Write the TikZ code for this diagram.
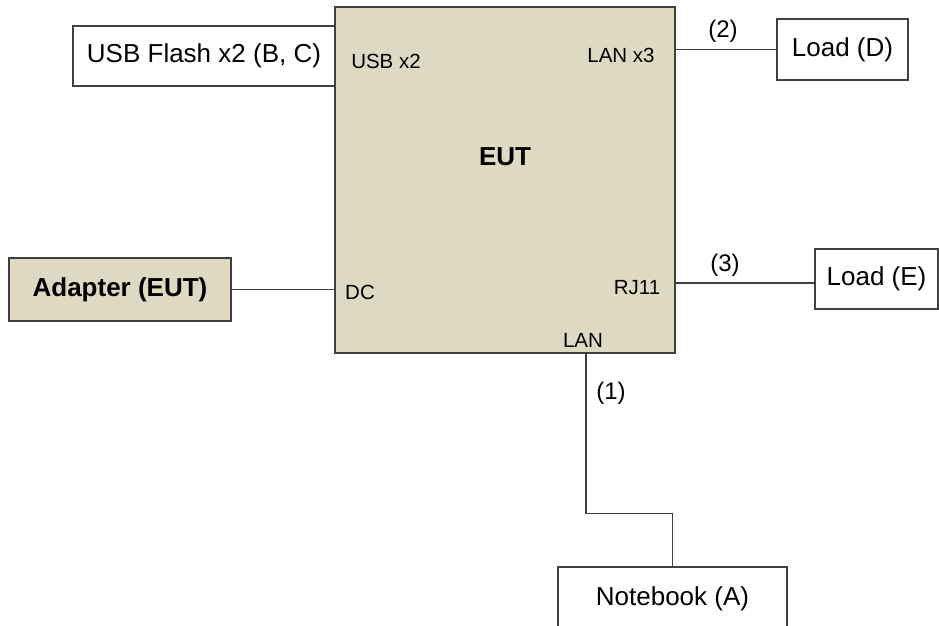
\documentclass[tikz,border=0pt]{standalone}
\usepackage{fontspec}
\setmainfont{Liberation Sans}
\definecolor{tan}{RGB}{221,217,195}
\definecolor{edge}{RGB}{64,64,64}
\begin{document}
\begin{tikzpicture}[x=1pt,y=-1pt,
  box/.style={draw=edge,line width=1.2pt,inner sep=0pt,font=\fontsize{26}{30}\selectfont},
  tanbox/.style={box,fill=tan},
  port/.style={inner sep=0pt,font=\fontsize{20.5}{24}\selectfont},
  num/.style={inner sep=0pt,font=\fontsize{24}{28}\selectfont},
  wire/.style={draw=edge,line width=1.1pt}]
\useasboundingbox (0,0) rectangle (939,626);
% boxes
\node[tanbox,minimum width=340,minimum height=346] (eut) at (505,180) {};
\node[box,fill=white,minimum width=262,minimum height=60] (usb) at (204,56) {USB Flash x2 (B, C)};
\node[box,fill=white,minimum width=131,minimum height=61] (ld) at (842.5,49.5) {Load (D)};
\node[tanbox,minimum width=222,minimum height=63,font=\fontsize{26}{30}\selectfont\bfseries] (adp) at (120,289.5) {Adapter (EUT)};
\node[box,fill=white,minimum width=123,minimum height=60] (le) at (876.5,279) {Load (E)};
\node[box,fill=white,minimum width=229,minimum height=64] (nb) at (672.5,599) {Notebook (A)};
% labels inside EUT
\node[inner sep=0pt,font=\fontsize{26}{30}\selectfont\bfseries] (eutl) at (505,157) {EUT};
\node[port] (pusb) at (386,61) {USB x2};
\node[port] (plan3) at (621,55) {LAN x3};
\node[port] (pdc) at (360,292) {DC};
\node[port] (prj) at (637,288) {RJ11};
\node[port] (plan) at (583,340) {LAN};
% connectors
\draw[wire] (ld.west) -- (ld.west -| eut.east);
\draw[wire] (adp.east) -- (adp.east -| eut.west);
\draw[wire] ([yshift=-4pt]le.west) -- ([yshift=-4pt]le.west -| eut.east);
\draw[wire] ([xshift=81pt]eut.south) |- ([yshift=53pt]nb.north) -- (nb.north);
% connector labels
\node[num] (n2) at (723,31) {(2)};
\node[num] (n3) at (725,265) {(3)};
\node[num] (n1) at (611,393) {(1)};
\end{tikzpicture}
\end{document}
